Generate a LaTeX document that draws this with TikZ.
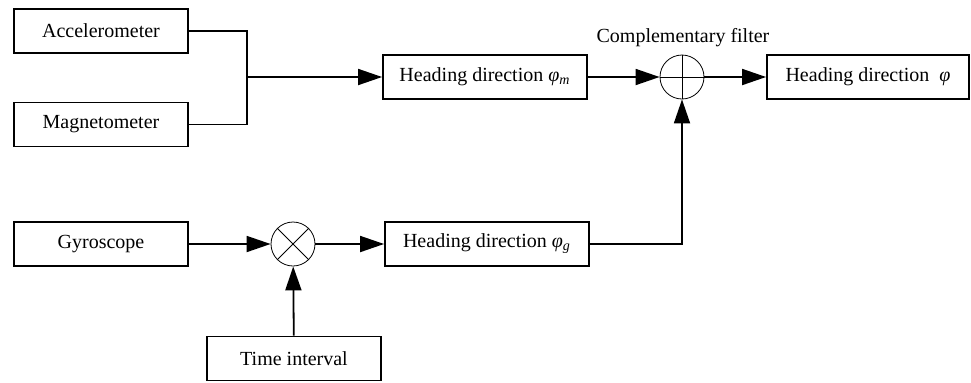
\documentclass[tikz,border=0pt]{standalone}
\usepackage{fontspec}
\setmainfont{Liberation Serif}
\usetikzlibrary{arrows.meta,positioning}
\tikzset{
  block/.style={rectangle, draw=black, line width=0.9pt, minimum width=87pt, minimum height=22pt, inner sep=1pt, font=\fontsize{10}{12}\selectfont},
  wideblock/.style={block, minimum width=102pt},
  junction/.style={circle, draw=black, line width=0.4pt, minimum size=22pt, inner sep=0pt},
  crossline/.style={line width=0.4pt},
  line/.style={line width=0.9pt},
  arrow/.style={-{Triangle[length=12pt, width=8pt]}, line width=0.9pt},
  caption/.style={font=\fontsize{10}{12}\selectfont}
}
\newcommand{\hdir}[1]{Heading direction {\itshape φ\textsubscript{#1}}}

\begin{document}
\begin{tikzpicture}[x=0.5pt, y=-0.5pt]
  \useasboundingbox (0,0) rectangle (971,382);
  % sensors
  \node[block] (acc) at (101,31) {Accelerometer};
  \node[block] (mag) at (101,124.5) {Magnetometer};
  \node[block] (gyro) at (101,244) {Gyroscope};
  \node[block] (dt) at (294,358.5) {Time interval};
  % heading estimates
  \node[wideblock] (hm) at (485,77) {\hdir{m}};
  \node[wideblock] (hg) at (487,244) {\hdir{g}};
  \node[wideblock, minimum width=101pt] (head) at (868,77) {Heading direction\ \ {\itshape φ}};
  % summing and multiplying points
  \node[junction] (sum) at (682,77) {};
  \node[junction] (mul) at (293,244) {};
  \draw[crossline] (sum.north) -- (sum.south) (sum.west) -- (sum.east);
  \draw[crossline] (mul.north west) -- (mul.south east) (mul.north east) -- (mul.south west);
  \node[caption] (cf) at (683,38) {Complementary filter};
  % connections
  \coordinate (join) at (247,77);
  \draw[line] (acc.east) -| (join);
  \draw[line] (mag.east) -| (join);
  \draw[arrow] (join) -- (hm.west);
  \draw[arrow] (hm) -- (sum);
  \draw[arrow] (sum) -- (head);
  \draw[arrow] (gyro) -- (mul);
  \draw[arrow] (dt) -- (mul);
  \draw[arrow] (mul) -- (hg);
  \draw[arrow] (hg.east) -| (sum.south);
\end{tikzpicture}
\end{document}
